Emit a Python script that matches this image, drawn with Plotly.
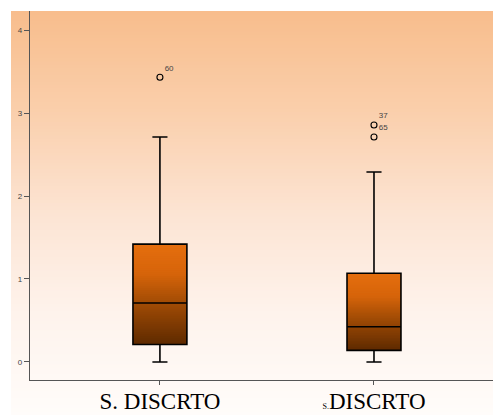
import plotly.graph_objects as go

# Box-plot summary for the two groups
categories = ["S. DISCRTO", "<span style='font-size:8px'>S.</span>DISCRTO"]
positions = [0, 1]
q1 = [0.21, 0.14]
median = [0.71, 0.425]
q3 = [1.42, 1.07]
lower_whisker = [0.0, 0.0]
upper_whisker = [2.71, 2.29]

# Outlying cases with their case numbers
outlier_x = [0, 1, 1]
outlier_y = [3.43, 2.855, 2.71]
outlier_ids = ["60", "37", "65"]

y_ticks = [0, 1, 2, 3, 4]

BOX_WIDTH = 0.252


def lerp_color(stops, t):
    """Interpolate an RGB colour from a list of (position, (r, g, b)) stops."""
    for (p0, c0), (p1, c1) in zip(stops, stops[1:]):
        if p0 <= t <= p1:
            f = 0 if p1 == p0 else (t - p0) / (p1 - p0)
            r, g, b = (round(a + (bb - a) * f) for a, bb in zip(c0, c1))
            return f"rgb({r},{g},{b})"
    r, g, b = stops[-1][1]
    return f"rgb({r},{g},{b})"


# Soft orange-to-white panel behind the chart (paper coordinates)
bg_stops = [(0.0, (248, 189, 140)), (0.25, (250, 207, 172)), (0.5, (252, 228, 211)),
            (0.75, (254, 243, 236)), (1.0, (255, 252, 250))]
shapes = []
W, H = 493, 415
ML, MT, MB = 30, 11, 35
plot_w, plot_h = W - ML, H - MT - MB
bg_x0, bg_top, bg_bot = 11, 11, 415
n_bg = 120
for i in range(n_bg):
    t = (i + 0.5) / n_bg
    ytop = bg_top + (bg_bot - bg_top) * i / n_bg
    ybot = bg_top + (bg_bot - bg_top) * (i + 1.6) / n_bg
    ybot = min(ybot, bg_bot)
    shapes.append(dict(
        type="rect", xref="paper", yref="paper", layer="below",
        x0=(bg_x0 - ML) / plot_w, x1=1.0,
        y0=(H - MB - ybot) / plot_h, y1=(H - MB - ytop) / plot_h,
        fillcolor=lerp_color(bg_stops, t), line=dict(width=0),
    ))

# Vertical orange-to-brown gradient filling each box (Q1..Q3)
box_stops = [(0.0, (229, 110, 14)), (0.3, (214, 100, 10)), (0.58, (162, 76, 5)),
             (1.0, (94, 42, 0))]
n_box = 50
for c, lo, hi in zip(positions, q1, q3):
    for i in range(n_box):
        t = (i + 0.5) / n_box
        top = hi - (hi - lo) * i / n_box
        bot = max(lo, hi - (hi - lo) * (i + 1.6) / n_box)
        shapes.append(dict(
            type="rect", xref="x", yref="y", layer="below",
            x0=c - BOX_WIDTH / 2, x1=c + BOX_WIDTH / 2, y0=bot, y1=top,
            fillcolor=lerp_color(box_stops, t), line=dict(width=0),
        ))

fig = go.Figure()
fig.add_trace(go.Box(
    x=positions, q1=q1, median=median, q3=q3,
    lowerfence=lower_whisker, upperfence=upper_whisker,
    width=BOX_WIDTH, whiskerwidth=0.28, boxpoints=False,
    fillcolor="rgba(0,0,0,0)", line=dict(color="black", width=1.6),
    hoverinfo="skip", showlegend=False,
))
fig.add_trace(go.Scatter(
    x=outlier_x, y=outlier_y, mode="markers+text", text=outlier_ids,
    textposition="top right",
    textfont=dict(family="Liberation Sans, Arial", size=8, color="#444"),
    marker=dict(symbol="circle-open", size=6, color="black", line=dict(width=1.1)),
    showlegend=False, cliponaxis=False,
))

fig.update_layout(
    width=W, height=H,
    margin=dict(l=ML, r=0, t=MT, b=MB),
    paper_bgcolor="white", plot_bgcolor="rgba(0,0,0,0)",
    shapes=shapes, showlegend=False,
    xaxis=dict(
        range=[-0.607, 1.556], tickmode="array", tickvals=positions, ticktext=categories,
        showgrid=False, zeroline=False, showline=True, linecolor="#555", linewidth=1.3,
        ticks="outside", ticklen=4, tickcolor="#555", tickwidth=1,
        ticklabelstandoff=-4, automargin=False,
        tickfont=dict(family="Liberation Serif, Times New Roman", size=23, color="black"),
    ),
    yaxis=dict(
        range=[-0.217, 4.229], tickmode="array", tickvals=y_ticks,
        showgrid=False, zeroline=False, showline=True, linecolor="#555", linewidth=1.3,
        ticks="outside", ticklen=5, tickcolor="#555", tickwidth=1, automargin=False,
        tickfont=dict(family="Liberation Sans, Arial", size=8, color="#444"),
    ),
)

fig.write_html("out.html")
